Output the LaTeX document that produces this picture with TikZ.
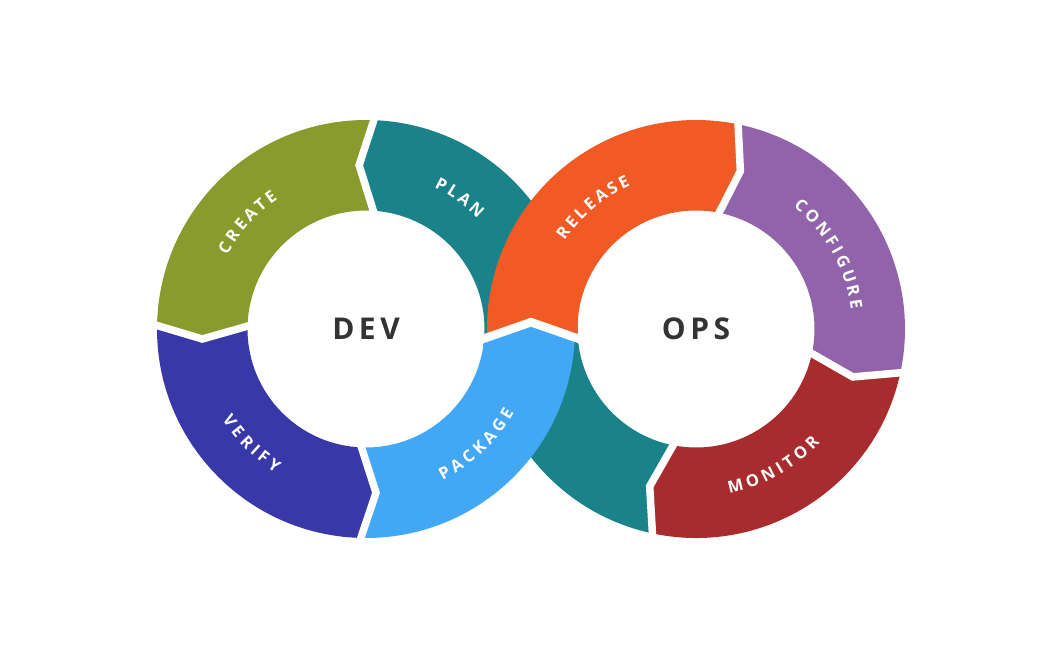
\documentclass[tikz,border=0pt]{standalone}
\usepackage{fontspec}
\setmainfont{Open Sans}
\usetikzlibrary{calc}
\definecolor{cOlive}{HTML}{8A9B2D}
\definecolor{cTeal}{HTML}{1A838A}
\definecolor{cIndigo}{HTML}{3838A8}
\definecolor{cSky}{HTML}{42A8F5}
\definecolor{cOrange}{HTML}{F15A25}
\definecolor{cPurple}{HTML}{9163AA}
\definecolor{cRed}{HTML}{A82C2E}
\definecolor{cText}{HTML}{333333}
\newcommand\zzlblfont{\fontsize{16.5}{16.5}\selectfont\bfseries}
\newcommand\zzlsp{3.6}
\newcount\zzcnt
\newcommand\zzmeasure[1]{%
  \setbox0=\hbox{\zzlblfont #1}%
  \pgfmathsetmacro\zztmp{\the\wd0}%
  \expandafter\xdef\csname zzw#1\endcsname{\zztmp}%
}
\newcommand\arclabel[6]{%
  \gdef\zztot{0}%
  \foreach \zzch in {#6}{%
    \pgfmathparse{\zztot+\csname zzw\zzch\endcsname+\zzlsp}%
    \xdef\zztot{\pgfmathresult}%
  }%
  \pgfmathparse{\zztot-\zzlsp}\xdef\zztot{\pgfmathresult}%
  \gdef\zzcum{0}%
  \foreach \zzch in {#6}{%
    \edef\zzw{\csname zzw\zzch\endcsname}%
    \pgfmathsetmacro\zzth{#4+(#5)*(\zztot/2-\zzcum-\zzw/2)/#3*180/pi}%
    \pgfmathsetmacro\zzrot{\zzth-90*(#5)}%
    \global\advance\zzcnt by 1
    \node[lbl,rotate=\zzrot] (ch\the\zzcnt) at ($(#1,#2)+(\zzth:#3pt)$) {\zzch};%
    \pgfmathparse{\zzcum+\zzw+\zzlsp}\xdef\zzcum{\pgfmathresult}%
  }%
}
\begin{document}
\zzmeasure{A}\zzmeasure{C}\zzmeasure{E}\zzmeasure{F}\zzmeasure{G}\zzmeasure{I}%
\zzmeasure{K}\zzmeasure{L}\zzmeasure{M}\zzmeasure{N}\zzmeasure{O}\zzmeasure{P}%
\zzmeasure{R}\zzmeasure{S}\zzmeasure{T}\zzmeasure{U}\zzmeasure{V}\zzmeasure{Y}%
\begin{tikzpicture}[x=1pt,y=1pt,
  lbl/.style={text=white,font=\zzlblfont,inner sep=0pt,anchor=center},
  hub/.style={text=cText,font=\fontsize{30}{30}\selectfont\bfseries,inner sep=0pt,anchor=center},
  gapline/.style={draw=white,line width=7.5pt,line join=miter,miter limit=10}]
\fill[white] (0,0) rectangle (1063,661);
\useasboundingbox (0,0) rectangle (1063,661);

\coordinate (C1) at (366,332);
\coordinate (C2) at (696,332);

% ---------- teal (PLAN) : both halves ----------
\begin{scope}[shift={(366,332)}]
  \fill[cTeal] (-8:209pt) arc[start angle=-8,end angle=87.4,radius=209pt]
     -- (92.4:164pt) -- (85.2:118.5pt) arc[start angle=85.2,end angle=-8,radius=118.5pt] -- cycle;
\end{scope}
\begin{scope}[shift={(696,332)}]
  \fill[cTeal] (-101.6:209pt) arc[start angle=-101.6,end angle=-185,radius=209pt]
     -- (-185:118.5pt) arc[start angle=-185,end angle=-100,radius=118.5pt]
     -- (-106.4:164pt) -- cycle;
\end{scope}

% ---------- left ring ----------
\begin{scope}[shift={(366,332)}]
  % CREATE
  \fill[cOlive] (87.4:209pt) arc[start angle=87.4,end angle=178.6,radius=209pt]
     -- (183.5:164pt) -- (177.6:118.5pt) arc[start angle=177.6,end angle=85.2,radius=118.5pt]
     -- (92.4:164pt) -- cycle;
  % VERIFY
  \fill[cIndigo] (178.6:209pt) arc[start angle=178.6,end angle=268.1,radius=209pt]
     -- (273.5:164pt) -- (266.6:118.5pt) arc[start angle=266.6,end angle=177.6,radius=118.5pt]
     -- (183.5:164pt) -- cycle;
  % PACKAGE
  \fill[cSky] (268.1:209pt) arc[start angle=268.1,end angle=357.53,radius=209pt]
     -- (165,6.8) -- (355.64:118.5pt) arc[start angle=355.64,end angle=266.6,radius=118.5pt]
     -- (273.5:164pt) -- cycle;
\end{scope}

% ---------- right ring ----------
\begin{scope}[shift={(696,332)}]
  % RELEASE
  \fill[cOrange] (182.47:209pt) arc[start angle=182.47,end angle=78.8,radius=209pt]
     -- (74.3:164pt) -- (79.7:118.5pt) arc[start angle=79.7,end angle=184.36,radius=118.5pt]
     -- (-165,6.8) -- cycle;
  % CONFIGURE
  \fill[cPurple] (78.8:209pt) arc[start angle=78.8,end angle=-11.6,radius=209pt]
     -- (-17:164pt) -- (-10.9:118.5pt) arc[start angle=-10.9,end angle=79.7,radius=118.5pt]
     -- (74.3:164pt) -- cycle;
  % MONITOR
  \fill[cRed] (-11.6:209pt) arc[start angle=-11.6,end angle=-101.6,radius=209pt]
     -- (-106.4:164pt) -- (-100:118.5pt) arc[start angle=-100,end angle=-10.9,radius=118.5pt]
     -- (-17:164pt) -- cycle;
\end{scope}

% ---------- white gaps ----------
\begin{scope}[shift={(366,332)}]
  \draw[gapline] (87.4:215pt) -- (92.4:164pt) -- (85.2:112pt);
  \draw[gapline] (178.6:215pt) -- (183.5:164pt) -- (177.6:112pt);
  \draw[gapline] (268.1:215pt) -- (273.5:164pt) -- (266.6:112pt);
\end{scope}
\begin{scope}[shift={(696,332)}]
  \draw[gapline] (78.8:215pt) -- (74.3:164pt) -- (79.7:112pt);
  \draw[gapline] (-11.6:215pt) -- (-17:164pt) -- (-10.9:112pt);
  \draw[gapline] (-101.6:215pt) -- (-106.4:164pt) -- (-100:112pt);
\end{scope}
\coordinate (X0) at (479,320.7);
\coordinate (XT) at (531,338.8);
\coordinate (X1) at (583,320.7);
\draw[gapline,line width=8.5pt] (X0) -- (XT) -- (X1);

% ---------- labels ----------
\arclabel{366}{332}{163}{138}{1}{C,R,E,A,T,E}
\arclabel{366}{332}{163}{54.5}{1}{P,L,A,N}
\arclabel{366}{332}{164}{225}{-1}{V,E,R,I,F,Y}
\arclabel{366}{332}{164}{313.7}{-1}{P,A,C,K,A,G,E}
\arclabel{696}{332}{164}{130.3}{1}{R,E,L,E,A,S,E}
\arclabel{696}{332}{162}{29.3}{1}{C,O,N,F,I,G,U,R,E}
\arclabel{696}{332}{162}{299.5}{-1}{M,O,N,I,T,O,R}

\node[hub] (dev) at (366,332.5) {D\kern4.5pt E\kern4.5pt V};
\node[hub] (ops) at (696,332.5) {O\kern4.5pt P\kern4.5pt S};
\end{tikzpicture}
\end{document}
